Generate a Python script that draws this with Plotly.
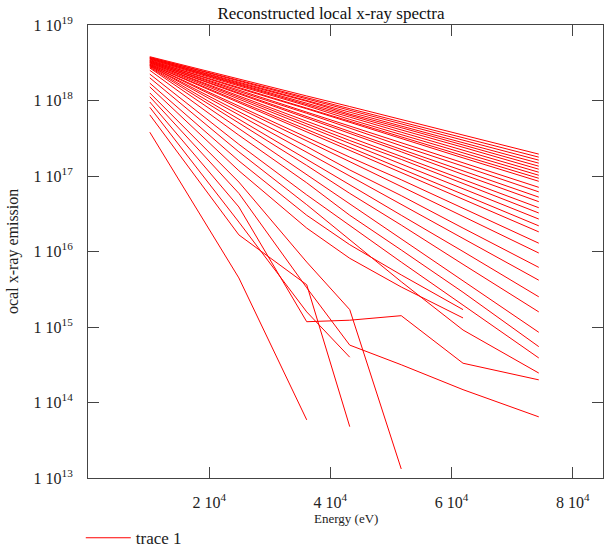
import plotly.graph_objects as go

# Photon energies (eV) at which each local spectrum is sampled
energy = [10200, 24900, 36100, 43200, 51700, 61900, 74400]

# log10 of the local emission for each reconstructed spectrum (shorter lists stop early)
log_spectra = [
    [18.58, 18.28, 18.06, 17.92, 17.75, 17.54, 17.29],
    [18.57, 18.27, 18.04, 17.89, 17.72, 17.51, 17.25],
    [18.57, 18.26, 18.02, 17.87, 17.69, 17.48, 17.21],
    [18.56, 18.24, 18.00, 17.84, 17.66, 17.44, 17.17],
    [18.56, 18.23, 17.99, 17.82, 17.64, 17.41, 17.13],
    [18.55, 18.22, 17.96, 17.80, 17.61, 17.38, 17.09],
    [18.55, 18.21, 17.95, 17.78, 17.58, 17.34, 17.05],
    [18.54, 18.19, 17.93, 17.75, 17.55, 17.31, 17.01],
    [18.53, 18.17, 17.90, 17.73, 17.52, 17.27, 16.97],
    [18.53, 18.16, 17.89, 17.71, 17.50, 17.24, 16.93],
    [18.52, 18.14, 17.85, 17.66, 17.44, 17.18, 16.85],
    [18.52, 18.12, 17.83, 17.63, 17.40, 17.13, 16.79],
    [18.51, 18.10, 17.79, 17.59, 17.36, 17.07, 16.72],
    [18.51, 18.09, 17.77, 17.56, 17.32, 17.02, 16.66],
    [18.50, 18.06, 17.73, 17.51, 17.26, 16.95, 16.58],
    [18.50, 18.04, 17.70, 17.47, 17.22, 16.90, 16.51],
    [18.49, 18.02, 17.66, 17.43, 17.16, 16.83, 16.43],
    [18.48, 17.99, 17.62, 17.38, 17.10, 16.76, 16.34],
    [18.48, 17.97, 17.59, 17.34, 17.05, 16.69, 16.26],
    [18.47, 17.93, 17.52, 17.25, 16.95, 16.57, 16.11],
    [18.47, 17.90, 17.47, 17.19, 16.86, 16.47, 15.98],
    [18.46, 17.85, 17.39, 17.08, 16.74, 16.31, 15.79],
    [18.46, 17.81, 17.32, 17.00, 16.63, 16.17, 15.62],
    [18.45, 17.75, 17.22, 16.88, 16.48, 16.00, 15.40],
    [18.44, 17.70, 17.14, 16.77, 16.35, 15.83, 15.20],
    [18.43, 17.63, 17.02, 16.63, 16.17, 15.61, 14.93],
    [18.40, 17.54, 16.91, 16.48, 16.02, 15.46, 14.74],
    [18.35, 17.42, 16.75, 16.34, 15.86, 15.29, 14.59],
    [18.30, 17.32, 16.62, 16.15, 15.60, 14.96, 14.39],
    [18.23, 17.20, 16.48, 16.09, 15.69, 15.23],
    [18.18, 17.07, 16.31, 15.91, 15.53, 15.12],
    [18.10, 16.92, 15.86, 15.23, 13.12],
    [18.05, 16.77, 15.52, 14.76, 14.50, 14.17, 13.81],
    [17.98, 16.59, 15.07, 15.09, 15.15, 14.52, 14.30],
    [17.91, 16.39, 15.20, 14.60],
    [17.81, 16.22, 15.56, 13.68],
    [17.58, 15.65, 13.77],
]

y_tick_exponents = [13, 14, 15, 16, 17, 18, 19]
x_tick_values = [20000, 40000, 60000, 80000]
x_tick_labels = ["2 10<sup>4</sup>", "4 10<sup>4</sup>", "6 10<sup>4</sup>", "8 10<sup>4</sup>"]

# All spectra share one trace; None breaks the line between spectra
xs, ys = [], []
for spec in log_spectra:
    xs.extend(energy[:len(spec)])
    ys.extend(10 ** v for v in spec)
    xs.append(None)
    ys.append(None)

serif = "Liberation Serif, Times New Roman, serif"
frame = "#444444"

fig = go.Figure()
fig.add_trace(go.Scatter(
    x=xs, y=ys, mode="lines", name="trace 1", showlegend=True,
    line=dict(color="#ff0000", width=1),
    connectgaps=False,
))

fig.update_layout(
    width=605, height=552,
    margin=dict(l=88, r=2, t=25, b=74, autoexpand=False),
    paper_bgcolor="white", plot_bgcolor="white",
    font=dict(family=serif, size=16, color="#222222"),
    title=dict(text="Reconstructed local x-ray spectra", x=0.547, xanchor="center",
               y=0.976, yanchor="middle", font=dict(family=serif, size=17, color="#111111")),
    legend=dict(x=-0.014, xanchor="left", xref="paper", y=0.025, yanchor="middle",
                yref="container", orientation="h", itemwidth=45,
                font=dict(family=serif, size=17, color="#222222"),
                bgcolor="rgba(0,0,0,0)"),
)

# Axis titles placed in the margins
fig.add_annotation(text="Energy (eV)", xref="paper", yref="paper", x=0.5, y=-0.0905,
                   xanchor="center", yanchor="middle", showarrow=False,
                   font=dict(family=serif, size=13, color="#222222"))
fig.add_annotation(text="ocal x-ray emission", xref="paper", yref="paper", x=-0.1466, y=0.5,
                   xanchor="center", yanchor="middle", textangle=-90, showarrow=False,
                   font=dict(family=serif, size=16, color="#222222"))

fig.update_xaxes(
    range=[0, 85000], showgrid=False, zeroline=False, automargin=False,
    showline=True, linecolor=frame, linewidth=1, mirror="ticks",
    ticks="inside", ticklen=11, tickcolor=frame, tickwidth=1,
    tickvals=x_tick_values, ticktext=x_tick_labels, ticklabelstandoff=10,
    tickfont=dict(family=serif, size=16),
)

fig.update_yaxes(
    type="log", range=[13, 19], showgrid=False, zeroline=False, automargin=False,
    showline=True, linecolor=frame, linewidth=1, mirror="ticks",
    ticks="inside", ticklen=11, tickcolor=frame, tickwidth=1,
    tickvals=[10 ** e for e in y_tick_exponents],
    ticktext=[f"1 10<sup>{e}</sup>" for e in y_tick_exponents],
    tickfont=dict(family=serif, size=16),
    ticklabelstandoff=11,
)

fig.write_html("out.html")
